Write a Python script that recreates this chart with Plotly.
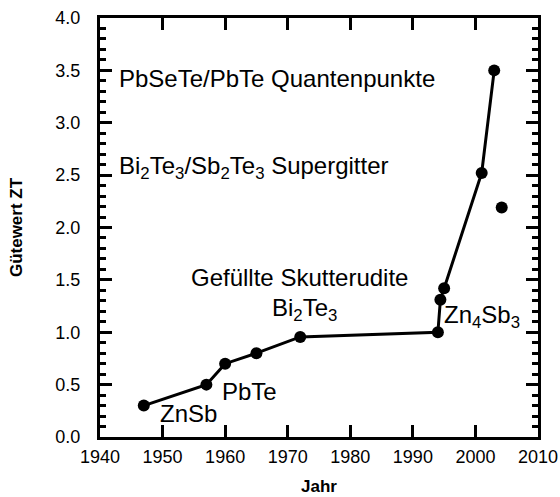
import plotly.graph_objects as go

# Main record series (year, ZT)
years = [1947, 1957, 1960, 1965, 1972, 1994, 1994.4, 1995, 2001, 2003]
zt = [0.30, 0.50, 0.70, 0.80, 0.955, 1.00, 1.31, 1.42, 2.52, 3.50]

# Separate point
extra_year = [2004.2]
extra_zt = [2.19]

# Labels: text, x, y
label_text = ["PbSeTe/PbTe Quantenpunkte",
              "Bi<sub>2</sub>Te<sub>3</sub>/Sb<sub>2</sub>Te<sub>3</sub> Supergitter",
              "Gefüllte Skutterudite",
              "Bi<sub>2</sub>Te<sub>3</sub>",
              "ZnSb",
              "PbTe",
              "Zn<sub>4</sub>Sb<sub>3</sub>"]
label_x = [1942.7, 1942.7, 1954.3, 1967.2, 1949.2, 1959.1, 1994.6]
label_y = [3.42, 2.57, 1.52, 1.22, 0.22, 0.43, 1.15]

# Axis ticks
xticks = [1940, 1950, 1960, 1970, 1980, 1990, 2000, 2010]
yticks_major = [0.0, 0.5, 1.0, 1.5, 2.0, 2.5, 3.0, 3.5, 4.0]
yticks_minor = [i / 10 for i in range(0, 41) if i % 5 != 0]

FONT = "Liberation Sans"
XMIN, XMAX = 1940, 2010
YMIN, YMAX = 0, 4

fig = go.Figure()
fig.add_trace(go.Scatter(x=years, y=zt, mode="lines+markers",
                         line=dict(color="black", width=3),
                         marker=dict(color="black", size=12),
                         showlegend=False, hoverinfo="skip"))
fig.add_trace(go.Scatter(x=extra_year, y=extra_zt, mode="markers",
                         marker=dict(color="black", size=12),
                         showlegend=False, hoverinfo="skip"))

for t, x, y in zip(label_text, label_x, label_y):
    fig.add_annotation(x=x, y=y, text=t, showarrow=False,
                       xanchor="left", yanchor="middle",
                       font=dict(family=FONT, size=24, color="black"))

fig.update_layout(
    template="none",
    width=560, height=497,
    margin=dict(l=100, r=22, t=18, b=60, autoexpand=False),
    plot_bgcolor="white", paper_bgcolor="white",
    font=dict(family=FONT, color="black"),
)
fig.update_xaxes(range=[XMIN, XMAX], tickmode="array", tickvals=xticks,
                 ticktext=[str(v) for v in xticks],
                 ticks="inside", ticklen=12, tickwidth=3, tickcolor="#000000",
                 showline=True, linewidth=3, linecolor="#000000", mirror="ticks",
                 showgrid=False, zeroline=False, automargin=False,
                 ticklabelstandoff=1,
                 tickfont=dict(family=FONT, size=18, color="black"),
                 title=dict(text="<b>Jahr</b>", font=dict(family=FONT, size=17, color="black"), standoff=15))
fig.update_yaxes(range=[YMIN, YMAX], tickmode="array", tickvals=yticks_major,
                 ticktext=[f"{v:.1f}" for v in yticks_major],
                 ticks="inside", ticklen=12, tickwidth=3, tickcolor="#000000",
                 showline=True, linewidth=3, linecolor="#000000", mirror="ticks",
                 showgrid=False, zeroline=False, automargin=False,
                 minor=dict(tickmode="array", tickvals=yticks_minor,
                            ticks="inside", ticklen=6, tickwidth=2.5,
                            tickcolor="#000000", showgrid=False),
                 ticklabelstandoff=13,
                 tickfont=dict(family=FONT, size=18, color="black"),
                 title=dict(text="<b>Gütewert ZT</b>", font=dict(family=FONT, size=17, color="black"), standoff=29))

fig.write_html("out.html", config={"displayModeBar": False},
               post_script="document.body.style.margin='0';document.body.style.padding='0';")
